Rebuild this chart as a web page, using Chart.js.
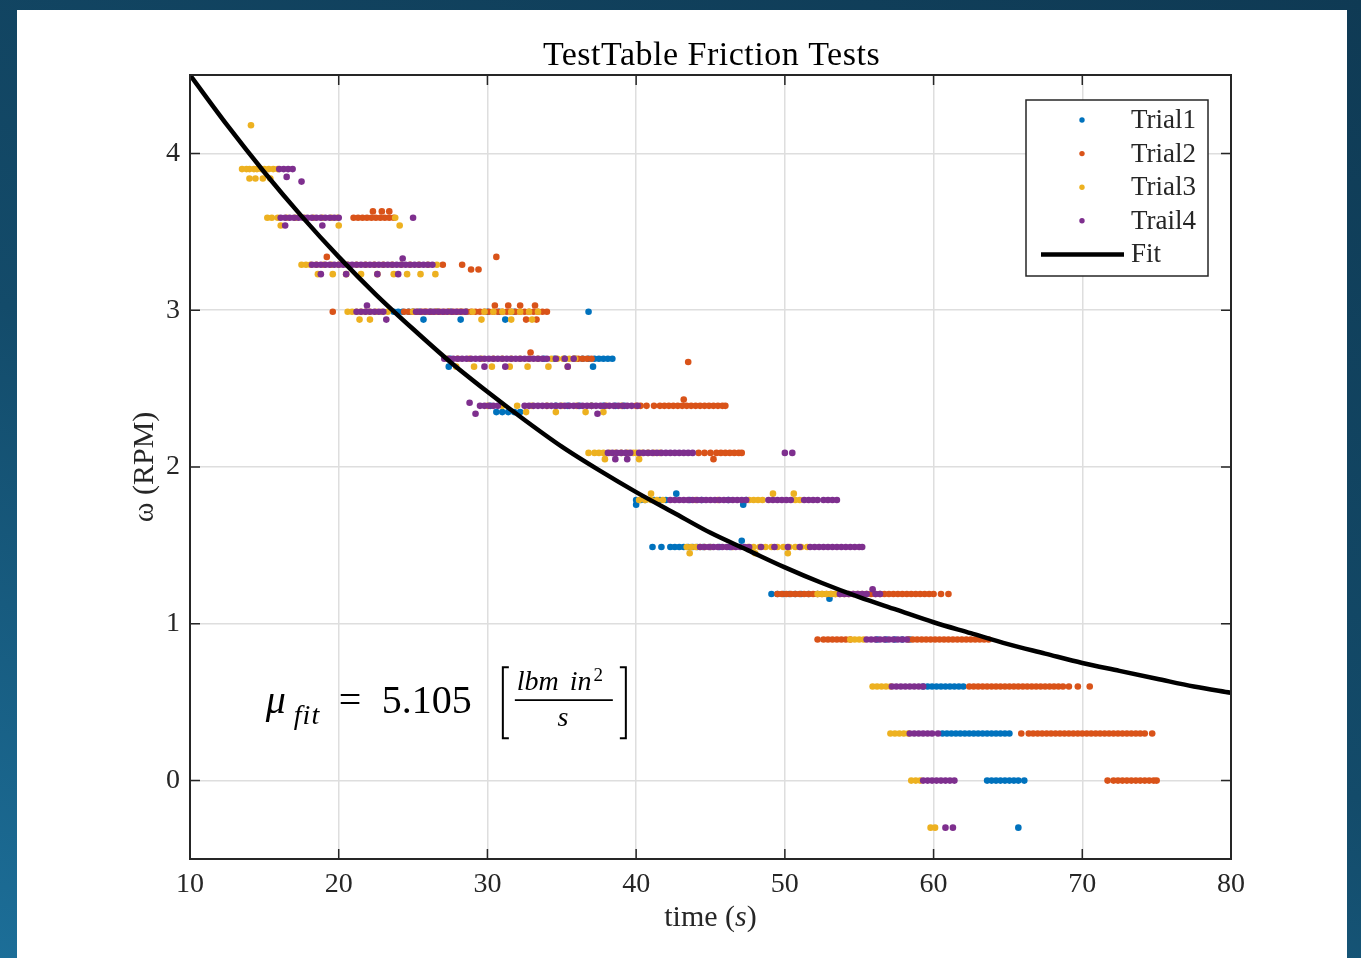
<!DOCTYPE html>
<html><head><meta charset="utf-8">
<script src="https://cdn.jsdelivr.net/npm/chart.js@4.4.1/dist/chart.umd.min.js"></script>
<style>
html,body{margin:0;padding:0;width:1361px;height:958px;overflow:hidden;background:linear-gradient(200deg,#0f3a54 0%,#134b6a 55%,#1c6e98 100%);}
#panel{position:absolute;left:17px;top:10px;width:1330px;height:948px;background:#fff;}
</style></head><body>
<div id="panel"><canvas id="c"></canvas></div>
<script>
// ---------- text ----------
const chartTitle = 'TestTable Friction Tests';
const xTitleParts = ['time (', 's', ')'];
const yTitle = 'ω (RPM)';
const seriesNames = ['Trial1', 'Trial2', 'Trial3', 'Trail4', 'Fit'];
const xTicks = [10, 20, 30, 40, 50, 60, 70, 80];
const yTicks = [0, 1, 2, 3, 4];
const muLabel = { mu: 'μ', sub: 'fit', eq: '=', val: '5.105', num1: 'lbm', num2: 'in', sup: '2', den: 's' };

// ---------- data: [omega level, [times...]] ----------
const trial1 = [
  [2.99, [23.7,24.0,24.3,24.7,25.0,25.4,26.2,26.6,27.5,28.6,30.0,30.8,31.8,36.8]],
  [2.94, [25.7,28.2,31.2]],
  [2.69, [27.5,33.8,34.5,35.2,35.9,36.4,36.8,37.2,37.5,37.8,38.1,38.4]],
  [2.64, [27.4,37.1]],
  [2.39, [30.2,34.6,35.4,36.2,37.0,37.8,38.6,39.2]],
  [2.35, [30.6,31.0,31.4,31.8,32.2]],
  [1.79, [40.0,40.3,40.6,41.2,41.6,42.0,43.6,44.4,46.2,47.4]],
  [1.83, [42.7]],
  [1.76, [40.0,47.2]],
  [1.49, [41.1,41.7,42.3,42.6,42.9,43.2,43.5,43.8,44.1,44.5,45.0,45.6,46.3]],
  [1.53, [47.1]],
  [1.19, [49.1,49.5,49.9,50.3,50.7,51.1,51.6,52.2]],
  [1.16, [53.0]],
  [0.90, [56.2,56.8,57.4,57.9,58.4]],
  [0.60, [59.3,59.6,59.9,60.2,60.5,60.8,61.1,61.4,61.7,62.0]],
  [0.30, [60.6,60.9,61.2,61.5,61.8,62.1,62.4,62.7,63.0,63.3,63.6,63.9,64.2,64.5,64.8,65.1]],
  [0.00, [63.6,63.9,64.2,64.5,64.8,65.1,65.4,65.7,66.1]],
  [-0.30, [65.7]]
];
const trial2 = [
  [3.59, [21.0,21.3,21.6,21.9,22.2,22.5,22.8,23.1,23.4,23.7]],
  [3.63, [22.3,22.9,23.4]],
  [3.34, [19.2,30.6]],
  [3.29, [27.0,28.3]],
  [3.26, [28.9,29.4]],
  [2.99, [19.6,24.4,24.7,25.0,25.3,25.6,25.9,26.2,26.5,26.8,27.1,27.4,27.7,28.0,28.3,28.6,28.9,29.2,29.5,29.8,30.1,30.4,30.7,31.0,31.3,31.6,31.9,32.2,32.5,32.8,33.1,33.4,33.7,34.0]],
  [3.03, [30.5,31.4,32.2,33.2]],
  [2.94, [32.6,33.3]],
  [2.69, [35.8,36.1,36.4,36.7,37.0]],
  [2.73, [32.9]],
  [2.67, [43.5]],
  [2.39, [40.0,40.3,40.7,41.2,41.6,41.9,42.2,42.5,42.8,43.1,43.4,43.7,44.0,44.3,44.6,44.9,45.2,45.5,45.8,46.0]],
  [2.43, [43.2]],
  [2.09, [44.2,44.6,45.0,45.4,45.7,46.0,46.3,46.6,46.9,47.1]],
  [2.05, [45.2]],
  [1.19, [49.5,49.8,50.1,50.4,50.7,51.0,51.3,51.6,51.9,52.2,52.5,52.8,53.1,53.4,53.7,54.0,54.3,54.6,54.9,55.2,55.5,55.8,56.1,56.4,56.7,57.0,57.3,57.6,57.9,58.2,58.5,58.8,59.1,59.4,59.7,60.0,60.5,61.0]],
  [0.90, [52.2,52.6,52.9,53.2,53.5,53.8,54.1,54.4,58.3,58.6,58.9,59.2,59.5,59.8,60.1,60.4,60.7,61.0,61.3,61.6,61.9,62.2,62.5,62.8,63.1,63.4,63.7]],
  [0.60, [62.4,62.7,63.0,63.3,63.6,63.9,64.2,64.5,64.8,65.1,65.4,65.7,66.0,66.3,66.6,66.9,67.2,67.5,67.8,68.1,68.4,68.7,69.1,69.7,70.5]],
  [0.30, [65.9,66.4,66.7,67.0,67.3,67.6,67.9,68.2,68.5,68.8,69.1,69.4,69.7,70.0,70.3,70.6,70.9,71.2,71.5,71.8,72.1,72.4,72.7,73.0,73.3,73.6,73.9,74.2,74.7]],
  [0.00, [71.7,72.1,72.4,72.7,73.0,73.3,73.6,73.9,74.2,74.5,74.8,75.0]]
];
const trial3 = [
  [4.18, [14.1]],
  [3.90, [13.5,13.8,14.0,14.3,14.5,14.8,15.0,15.3,15.6,15.9]],
  [3.84, [14.0,14.4,14.9,15.4]],
  [3.59, [15.2,15.5,15.9,16.5,17.1,17.7,18.3,18.9,19.5,19.9,23.8]],
  [3.54, [16.1,20.0,24.1]],
  [3.29, [17.5,17.8,18.1,18.5,19.0,19.5,20.0,20.6,21.2,21.8,22.4,23.0,23.6,24.2,24.8,25.4,26.0,26.6]],
  [3.23, [18.6,19.6,20.5,21.5,22.6,23.7,24.6,25.5,26.5]],
  [2.99, [20.6,20.9,21.2,21.5,21.8,22.1,22.5,22.9,23.3,25.0,25.8,26.6,27.4,28.2,29.0,29.8,30.4,31.0,31.6,32.2,32.8,33.4]],
  [2.94, [21.4,22.1,29.6,31.6,33.0]],
  [2.69, [27.3,28.0,28.8,29.6,30.4,31.0,31.6,32.2,32.8,33.4,34.3,34.7,35.1,35.5,35.9]],
  [2.64, [27.9,29.1,30.3,31.5,32.7,34.1,35.4]],
  [2.39, [30.0,31.0,32.0,33.0,34.0,35.0,36.0,37.0,38.0,39.0]],
  [2.35, [32.6,34.6,36.6,37.8]],
  [2.09, [36.8,37.2,37.5,37.8,38.2,38.6,39.0,39.4,39.8,40.0,40.4,40.8,41.2,41.6]],
  [2.05, [37.9,40.2]],
  [1.79, [40.2,40.6,41.0,41.4,41.8,44.0,45.5,47.6,47.9,48.2,48.5,50.7,51.0]],
  [1.83, [41.0,49.2,50.6]],
  [1.49, [43.4,43.7,44.0,44.3,44.6,45.0,46.5,47.5,47.9,48.3,48.7,49.1,49.5,49.9,50.3,50.7,51.1,51.5]],
  [1.45, [43.6,48.0,50.2]],
  [1.19, [52.2,52.5,52.8,53.1,53.4]],
  [0.90, [54.4,54.7,55.0,55.3]],
  [0.60, [55.9,56.2,56.5,56.8,57.1]],
  [0.30, [57.1,57.4,57.7,58.0,58.3]],
  [0.00, [58.5,58.8,59.1]],
  [-0.30, [59.8,60.1]]
];
const trial4 = [
  [3.90, [16.0,16.3,16.6,16.9]],
  [3.85, [16.5]],
  [3.82, [17.5]],
  [3.59, [16.1,16.4,16.7,17.0,17.3,17.6,17.9,18.2,18.5,18.8,19.1,19.4,19.7,20.0,25.0]],
  [3.54, [16.4,18.9]],
  [3.29, [18.2,18.5,18.8,19.1,19.4,19.7,20.0,20.3,20.6,20.9,21.2,21.5,21.8,22.1,22.4,22.7,23.0,23.3,23.6,23.9,24.2,24.5,24.8,25.1,25.4,25.7,26.0,26.3]],
  [3.23, [18.8,20.5,22.6,24.0]],
  [3.33, [24.3]],
  [2.99, [21.2,21.5,21.8,22.1,22.4,22.7,23.0,25.2,25.5,25.8,26.1,26.4,26.7,27.0,27.3,27.6,27.9,28.2,28.5]],
  [3.03, [21.9]],
  [2.94, [23.2]],
  [2.69, [27.1,27.4,27.7,28.0,28.3,28.6,28.9,29.2,29.5,29.8,30.1,30.4,30.7,31.0,31.3,31.6,31.9,32.2,32.5,32.8,33.1,33.4,33.7,34.0,34.6,35.2,35.8]],
  [2.64, [29.8,31.2,35.4]],
  [2.41, [28.8]],
  [2.34, [29.2,37.4]],
  [2.39, [29.5,29.8,30.1,30.4,30.7,32.5,32.8,33.1,33.4,33.7,34.0,34.3,34.6,34.9,35.2,35.5,35.8,36.1,36.4,36.7,37.0,37.3,37.6,37.9,38.2,38.5,38.8,39.1,39.4,39.7,40.1]],
  [2.09, [38.1,38.4,38.7,39.0,39.3,39.6,40.2,40.5,40.8,41.1,41.4,41.7,42.0,42.3,42.6,42.9,43.2,43.5,43.8,50.0,50.5]],
  [2.05, [38.6,39.4]],
  [1.79, [42.3,42.6,42.9,43.2,43.5,43.8,44.1,44.4,44.7,45.0,45.3,45.6,45.9,46.2,46.5,46.8,47.1,47.4,48.9,49.2,49.5,49.8,50.1,50.4,51.3,51.6,51.9,52.2,52.6,52.9,53.2,53.5]],
  [1.49, [44.3,44.6,44.9,45.2,45.5,45.8,46.1,46.4,46.7,47.0,47.3,47.6,48.4,49.3,50.2,51.0,51.7,52.0,52.3,52.6,52.9,53.2,53.5,53.8,54.1,54.4,54.7,55.0,55.2]],
  [1.19, [53.7,54.0,54.3,54.6,54.9,55.2,55.5,56.1,56.4]],
  [1.22, [55.9]],
  [0.90, [55.5,55.8,56.1,56.4,56.7,57.0,57.3,57.6,57.9,58.2]],
  [0.60, [57.2,57.5,57.8,58.1,58.4,58.7,59.0,59.3]],
  [0.30, [58.4,58.7,59.0,59.3,59.6,59.9,60.3]],
  [0.00, [59.3,59.6,59.9,60.2,60.5,60.8,61.1,61.4]],
  [-0.30, [60.8,61.3]]
];
// exponential fit curve
const fitT = [10,12.5,15,17.5,20,22.5,25,27.5,30,32.5,35,37.5,40,42.5,45,47.5,50,52.5,55,57.5,60,62.5,65,67.5,70,72.5,75,77.5,80];
const fitW = [4.50,4.18,3.88,3.60,3.34,3.10,2.88,2.67,2.48,2.30,2.13,1.98,1.84,1.71,1.58,1.47,1.36,1.26,1.17,1.09,1.01,0.94,0.87,0.81,0.75,0.70,0.65,0.60,0.56];

const colors = ['#0072BD', '#D95319', '#EDB120', '#7E2F8E', '#000000'];
const FONT = '"Liberation Serif", "Times New Roman", serif';

function toPoints(rows) {
  const pts = [];
  rows.forEach(([w, ts]) => ts.forEach(t => pts.push({ x: t, y: w })));
  return pts;
}

const scatterSets = [trial1, trial2, trial3, trial4].map((rows, i) => ({
  type: 'scatter',
  label: seriesNames[i],
  data: toPoints(rows),
  backgroundColor: colors[i],
  borderWidth: 0,
  pointRadius: 3.3,
  pointBorderWidth: 0,
  order: 4 - i
}));
const fitSet = {
  type: 'line',
  label: seriesNames[4],
  data: fitT.map((t, i) => ({ x: t, y: fitW[i] })),
  borderColor: colors[4],
  borderWidth: 4.5,
  pointRadius: 0,
  cubicInterpolationMode: 'monotone',
  fill: false,
  order: 0
};

const decor = {
  id: 'decor',
  afterDraw(chart) {
    const { ctx, chartArea: a, scales: { x, y } } = chart;
    ctx.save();
    // inward tick marks
    ctx.strokeStyle = '#262626';
    ctx.lineWidth = 1.5;
    ctx.beginPath();
    xTicks.forEach(v => {
      const px = x.getPixelForValue(v);
      ctx.moveTo(px, a.bottom); ctx.lineTo(px, a.bottom - 10);
      ctx.moveTo(px, a.top); ctx.lineTo(px, a.top + 10);
    });
    yTicks.forEach(v => {
      const py = y.getPixelForValue(v);
      ctx.moveTo(a.left, py); ctx.lineTo(a.left + 10, py);
      ctx.moveTo(a.right, py); ctx.lineTo(a.right - 10, py);
    });
    ctx.stroke();
    // frame
    ctx.lineWidth = 2;
    ctx.strokeRect(a.left, a.top, a.right - a.left, a.bottom - a.top);

    // title
    ctx.fillStyle = '#000';
    ctx.font = '34px ' + FONT;
    ctx.textAlign = 'center';
    ctx.textBaseline = 'alphabetic';
    ctx.letterSpacing = '0.5px';
    ctx.fillText(chartTitle, (a.left + a.right) / 2 + 1, a.top - 10);
    ctx.letterSpacing = '0px';

    // x axis title with italic s
    ctx.fillStyle = '#262626';
    ctx.textAlign = 'left';
    const fR = '30px ' + FONT, fI = 'italic 30px ' + FONT;
    const fonts = [fR, fI, fR];
    let widths = xTitleParts.map((s, i) => { ctx.font = fonts[i]; return ctx.measureText(s).width; });
    let total = widths.reduce((p, c) => p + c, 0);
    let cx = (a.left + a.right) / 2 - total / 2;
    xTitleParts.forEach((s, i) => { ctx.font = fonts[i]; ctx.fillText(s, cx, a.bottom + 67); cx += widths[i]; });

    // y axis title
    ctx.save();
    ctx.translate(a.left - 45, (a.top + a.bottom) / 2);
    ctx.rotate(-Math.PI / 2);
    ctx.font = fR;
    ctx.textAlign = 'center';
    ctx.textBaseline = 'middle';
    ctx.fillText(yTitle, 0, 0);
    ctx.restore();

    // mu annotation
    const ax = x.getPixelForValue(15.1), ay = y.getPixelForValue(0.43);
    ctx.fillStyle = '#000';
    ctx.strokeStyle = '#000';
    ctx.textAlign = 'left';
    ctx.textBaseline = 'alphabetic';
    ctx.font = 'italic 40px ' + FONT;
    ctx.fillText(muLabel.mu, ax, ay);
    ctx.font = 'italic 28px ' + FONT;
    ctx.letterSpacing = '1px';
    ctx.fillText(muLabel.sub, ax + 28, ay + 11);
    ctx.letterSpacing = '0px';
    ctx.font = '40px ' + FONT;
    ctx.fillText(muLabel.eq, ax + 73, ay);
    ctx.fillText(muLabel.val, ax + 116, ay);
    ctx.lineWidth = 2;
    ctx.beginPath();
    ctx.moveTo(ax + 243, ay - 46); ctx.lineTo(ax + 237, ay - 46); ctx.lineTo(ax + 237, ay + 25); ctx.lineTo(ax + 243, ay + 25);
    ctx.moveTo(ax + 354, ay - 46); ctx.lineTo(ax + 360, ay - 46); ctx.lineTo(ax + 360, ay + 25); ctx.lineTo(ax + 354, ay + 25);
    ctx.stroke();
    ctx.lineWidth = 1.8;
    ctx.beginPath();
    ctx.moveTo(ax + 249, ay - 13); ctx.lineTo(ax + 347, ay - 13);
    ctx.stroke();
    ctx.font = 'italic 28px ' + FONT;
    ctx.fillText(muLabel.num1, ax + 251, ay - 23);
    ctx.fillText(muLabel.num2, ax + 304, ay - 23);
    const inW = ctx.measureText(muLabel.num2).width;
    ctx.textAlign = 'center';
    ctx.fillText(muLabel.den, ax + 297, ay + 13);
    ctx.textAlign = 'left';
    ctx.font = '19px ' + FONT;
    ctx.fillText(muLabel.sup, ax + 304 + inW + 2, ay - 32);

    // legend
    const bw = 182, bh = 176;
    const bx = a.right - 23 - bw, by = a.top + 25;
    ctx.fillStyle = '#fff';
    ctx.fillRect(bx, by, bw, bh);
    ctx.strokeStyle = '#262626';
    ctx.lineWidth = 1.5;
    ctx.strokeRect(bx, by, bw, bh);
    ctx.font = '27px ' + FONT;
    ctx.textBaseline = 'middle';
    ctx.textAlign = 'left';
    chart.data.datasets.forEach((ds, i) => {
      const ry = by + 20 + i * 33.6;
      if (ds.type === 'line') {
        ctx.strokeStyle = ds.borderColor;
        ctx.lineWidth = 4.5;
        ctx.beginPath(); ctx.moveTo(bx + 15, ry); ctx.lineTo(bx + 98, ry); ctx.stroke();
      } else {
        ctx.fillStyle = ds.backgroundColor;
        ctx.beginPath(); ctx.arc(bx + 56, ry, 2.7, 0, Math.PI * 2); ctx.fill();
      }
      ctx.fillStyle = '#262626';
      ctx.fillText(ds.label, bx + 105, ry + 1);
    });
    ctx.restore();
  }
};

new Chart(document.getElementById('c'), {
  data: { datasets: [...scatterSets, fitSet] },
  options: {
    responsive: true,
    maintainAspectRatio: false,
    animation: false,
    events: [],
    layout: { padding: { left: 113, right: 116, top: 65, bottom: 39 } },
    plugins: { legend: { display: false }, title: { display: false }, tooltip: { enabled: false } },
    scales: {
      x: {
        type: 'linear', min: 10, max: 80,
        afterBuildTicks: s => { s.ticks = xTicks.map(v => ({ value: v })); },
        afterFit: s => { s.height = 60; s.paddingLeft = 0; s.paddingRight = 0; },
        grid: { color: '#dedede', lineWidth: 1.5, drawTicks: false },
        border: { display: false },
        ticks: { padding: 9, color: '#262626', font: { family: FONT, size: 28 }, maxRotation: 0, autoSkip: false }
      },
      y: {
        type: 'linear', min: -0.5, max: 4.5,
        afterBuildTicks: s => { s.ticks = yTicks.map(v => ({ value: v })); },
        afterFit: s => { s.width = 60; s.paddingTop = 0; s.paddingBottom = 0; },
        grid: { color: '#dedede', lineWidth: 1.5, drawTicks: false },
        border: { display: false },
        ticks: { padding: 10, color: '#262626', font: { family: FONT, size: 28 }, autoSkip: false }
      }
    }
  },
  plugins: [decor]
});
</script>
</body></html>
